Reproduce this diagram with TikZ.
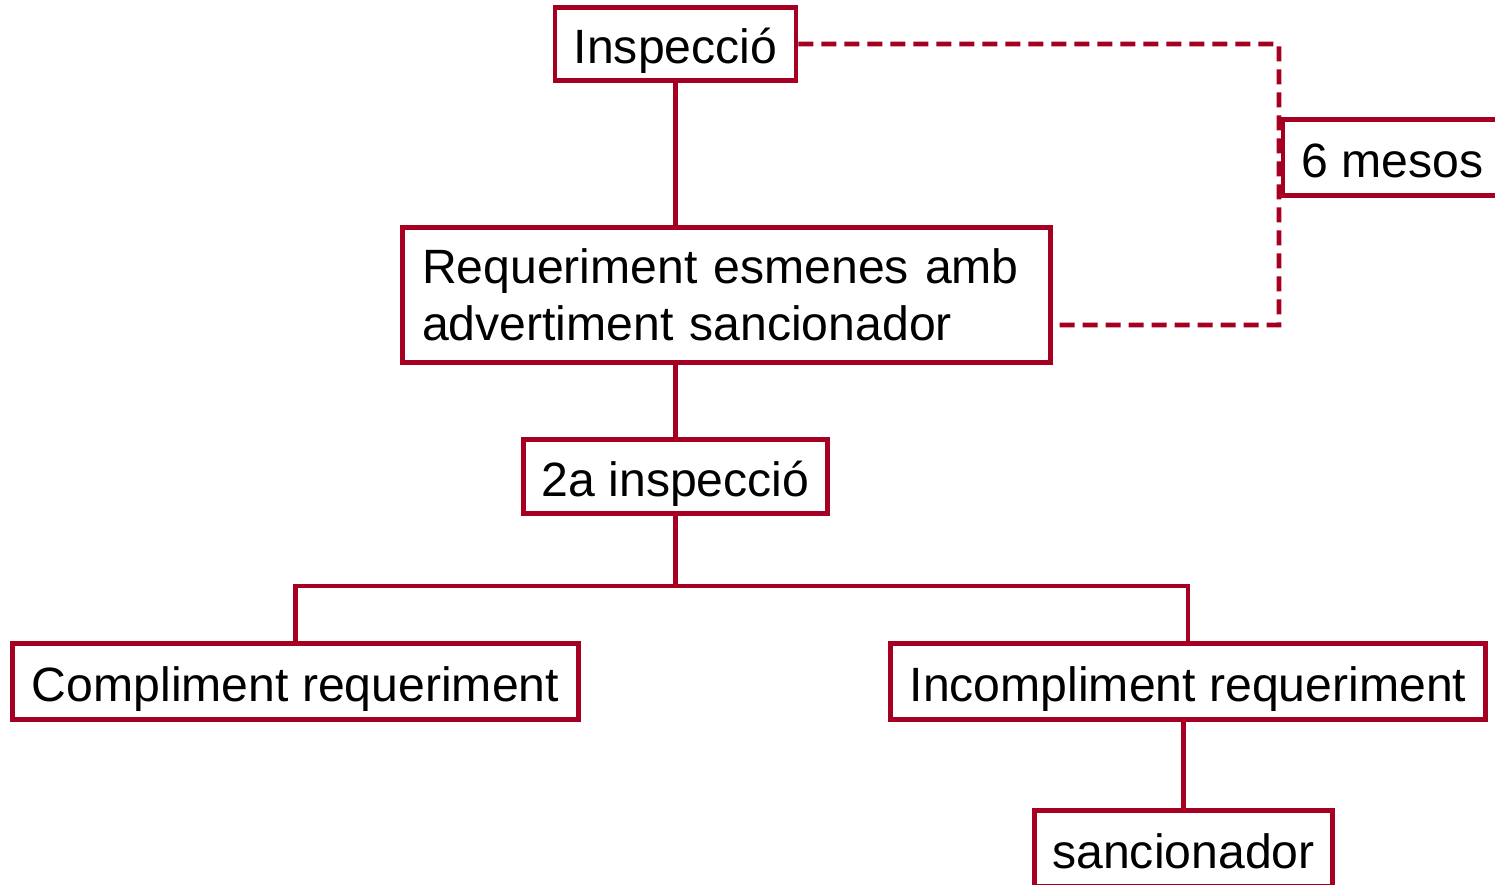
\documentclass[tikz,border=0pt]{standalone}
\usepackage{fontspec}
\setmainfont{Liberation Sans}
\definecolor{granat}{RGB}{165,0,33}
\tikzset{
  caixa/.style = {draw=granat, line width=2.8pt, inner sep=0pt, font=\fontsize{27.4}{32.4}\selectfont},
  fila/.style = {caixa, text height=0.95cm, text depth=0.15cm},
  linia/.style = {granat, line width=2.8pt},
  termini/.style = {granat, line width=2.8pt, dash pattern=on 0.3cm off 0.16cm}
}
\begin{document}
\begin{tikzpicture}
\useasboundingbox (0,0) rectangle (29.9,17.7);
\clip (0,0) rectangle (29.9,17.7);
\node [fila, minimum width=4.82cm, minimum height=1.46cm] (insp) at (13.51,16.82) {Inspecció};
\node [fila, minimum width=4.38cm, minimum height=1.52cm] (mesos) at (27.85,14.55) {6 mesos};
\node [caixa, text width=12.18cm, inner xsep=0.39cm, align=left, minimum height=2.7cm] (req) at (14.53,11.8) {Requeriment esmenes amb\\advertiment sancionador};
\node [fila, minimum width=6.08cm, minimum height=1.48cm] (insp2) at (13.51,8.17) {2a inspecció};
\node [fila, minimum width=11.32cm, minimum height=1.52cm] (compl) at (5.91,4.07) {Compliment requeriment};
\node [fila, minimum width=11.9cm, minimum height=1.52cm] (incompl) at (23.76,4.07) {Incompliment requeriment};
\node [fila, minimum width=5.96cm, minimum height=1.52cm] (sanc) at (23.67,0.73) {sancionador};
\coordinate (branca) at (13.51,5.98);
\coordinate (retorn) at ([yshift=-0.6cm]req.east);
\coordinate (plec) at (25.58,11.2);
\draw [linia] (insp.south) -- (insp.south |- req.north);
\draw [linia] (insp2.north) -- (insp2.north |- req.south);
\draw [linia] (insp2.south) -- (branca);
\draw [linia] (compl.north) |- (branca) -| (incompl.north);
\draw [linia] (sanc.north) -- (sanc.north |- incompl.south);
\draw [termini] (insp.east) -| (plec) -- (retorn);
\end{tikzpicture}
\end{document}
